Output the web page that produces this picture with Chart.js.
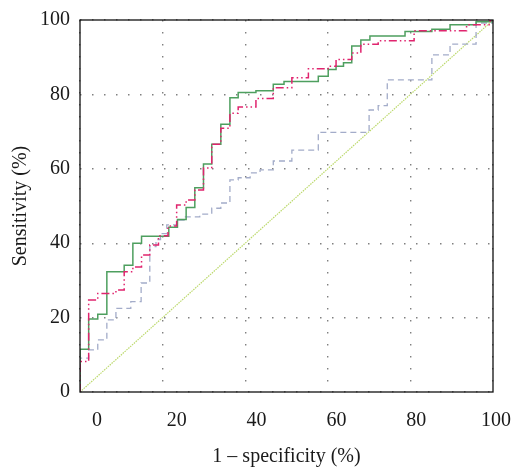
<!DOCTYPE html>
<html>
<head>
<meta charset="utf-8">
<script src="https://cdn.jsdelivr.net/npm/chart.js@4"></script>
<style>
  html, body { margin: 0; padding: 0; background: #fff; }
  #wrap { width: 513px; height: 467px; }
</style>
</head>
<body>
<div id="wrap"><canvas id="roc" width="513" height="467"></canvas></div>
<script>
// ROC curves, values in % (1 - specificity, sensitivity), corners of each step
const greenFpr = [0, 0, 2.1, 4.3, 6.5, 10.7, 12.8, 14.9, 21.5, 23.6, 25.7, 27.8, 29.9, 31.9, 34.1, 36.3, 38.3, 42.6, 46.8, 49.4, 57.7, 60.1, 62.0, 63.8, 65.8, 68.0, 70.2, 78.7, 85.2, 89.6, 95.9, 99.7, 100];
const greenTpr = [0, 11.5, 19.6, 20.9, 32.3, 34.1, 40.0, 41.9, 44.3, 46.4, 49.6, 54.9, 61.3, 66.6, 72.0, 79.1, 80.5, 81.0, 82.7, 83.5, 84.9, 86.7, 87.6, 88.5, 93.0, 94.6, 95.7, 96.9, 97.5, 98.7, 99.5, 100, 100];

const pinkFpr = [0, 0, 2.1, 4.3, 8.7, 10.7, 12.8, 14.9, 16.9, 19.0, 21.3, 23.4, 25.7, 27.8, 29.9, 31.9, 34.1, 36.3, 38.3, 42.6, 46.8, 51.3, 55.3, 60.1, 62.0, 65.8, 68.0, 72.2, 80.9, 93.6, 99.3, 100];
const pinkTpr = [0, 8.2, 24.7, 26.5, 27.4, 32.3, 33.6, 36.8, 39.5, 42.0, 44.6, 50.3, 51.6, 54.3, 60.2, 66.6, 70.9, 74.9, 76.6, 78.9, 81.8, 84.5, 86.9, 87.6, 89.4, 91.1, 93.5, 94.4, 97.1, 98.7, 100, 100];

const grayFpr = [0, 0, 2.1, 4.3, 6.5, 8.7, 12.3, 14.8, 16.9, 18.4, 19.5, 21.0, 23.4, 25.2, 29.0, 31.9, 34.1, 36.3, 38.3, 41.2, 43.6, 46.8, 51.3, 57.7, 70.0, 72.2, 74.4, 85.2, 89.6, 95.9, 100];
const grayTpr = [0, 9.1, 11.3, 14.0, 19.4, 22.5, 24.3, 29.3, 39.1, 41.0, 42.6, 44.9, 46.2, 47.1, 47.8, 49.4, 50.8, 57.0, 57.6, 58.9, 59.7, 62.1, 65.0, 69.8, 75.8, 77.0, 83.9, 90.6, 93.5, 99.2, 100];

const chanceFpr = [0, 100];
const chanceTpr = [0, 100];

const xTickLabels = [0, 20, 40, 60, 80, 100];
const yTickLabels = [0, 20, 40, 60, 80, 100];

const pts = (xs, ys) => xs.map((x, i) => ({ x: x, y: ys[i] }));

Chart.defaults.font.family = "'Liberation Serif', 'Times New Roman', serif";
Chart.defaults.font.size = 20;
Chart.defaults.color = '#1a1a1a';

// plot frame drawn on top of everything
const framePlugin = {
    id: 'frame',
    afterDraw(chart) {
        const a = chart.chartArea;
        const ctx = chart.ctx;
        ctx.save();
        ctx.strokeStyle = '#111';
        ctx.lineWidth = 1.3;
        ctx.strokeRect(a.left, a.top, a.right - a.left, a.bottom - a.top);
        ctx.restore();
    }
};

const gridDots = { color: '#808080', lineWidth: 1.4, drawTicks: false };

new Chart(document.getElementById('roc'), {
    type: 'scatter',
    data: {
        datasets: [
            {
                data: pts(greenFpr, greenTpr),
                showLine: true, stepped: 'before',
                borderColor: '#4e9f5f', borderWidth: 1.5,
                pointRadius: 0, order: 1
            },
            {
                data: pts(pinkFpr, pinkTpr),
                showLine: true, stepped: 'before',
                borderColor: '#e0246e', borderWidth: 1.5,
                borderDash: [8, 3, 1.5, 3, 1.5, 3],
                pointRadius: 0, order: 0
            },
            {
                data: pts(grayFpr, grayTpr),
                showLine: true, stepped: 'before',
                borderColor: '#a3acc9', borderWidth: 1.3,
                borderDash: [6, 4],
                pointRadius: 0, order: 2
            },
            {
                data: pts(chanceFpr, chanceTpr),
                showLine: true,
                borderColor: '#bcd96c', borderWidth: 1.2,
                borderDash: [1.5, 1],
                pointRadius: 0, order: 3
            }
        ]
    },
    options: {
        responsive: false,
        animation: false,
        layout: { padding: { left: 0, right: 20, top: 20, bottom: 0 } },
        plugins: {
            legend: { display: false },
            tooltip: { enabled: false }
        },
        scales: {
            x: {
                type: 'linear', position: 'bottom', weight: 0,
                min: 0, max: 100,
                ticks: { display: false, stepSize: 20 },
                grid: gridDots,
                border: { display: false, dash: [1.5, 10.5] },
                afterFit: s => { s.height = 0; s.paddingLeft = 0; s.paddingRight = 0; }
            },
            // tick labels sit on their own axis, slightly offset from the grid as in the figure
            xl: {
                type: 'linear', position: 'bottom', weight: 1,
                min: -4.26, max: 99.25,
                afterBuildTicks: s => { s.ticks = xTickLabels.map(v => ({ value: v })); },
                ticks: { autoSkip: false, maxRotation: 0, padding: 17 },
                grid: { display: false, drawTicks: false },
                border: { display: false },
                title: {
                    display: true, text: '1 – specificity (%)',
                    font: { size: 20, lineHeight: 1 },
                    padding: { top: 0, bottom: 0 }
                },
                afterFit: s => { s.height = 75; s.paddingLeft = 0; s.paddingRight = 0; }
            },
            y: {
                type: 'linear', position: 'left',
                min: 0, max: 100,
                afterBuildTicks: s => { s.ticks = yTickLabels.map(v => ({ value: v })); },
                ticks: { padding: 10 },
                grid: gridDots,
                border: { display: false, dash: [1.5, 10.5] },
                title: {
                    display: true, text: 'Sensitivity (%)',
                    font: { size: 20, lineHeight: 1 },
                    padding: { top: 11, bottom: 0 }
                },
                afterFit: s => { s.width = 80; s.paddingTop = 0; s.paddingBottom = 0; }
            }
        }
    },
    plugins: [framePlugin]
});
</script>
</body>
</html>
